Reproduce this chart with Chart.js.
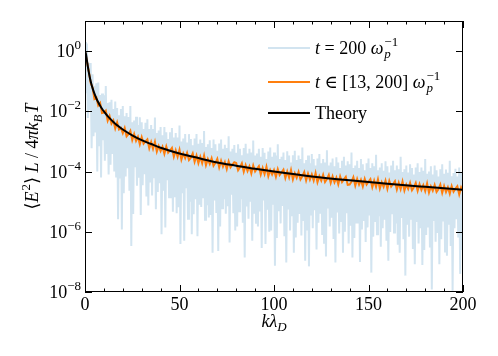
<!DOCTYPE html>
<html><head><meta charset="utf-8">
<script src="https://cdn.jsdelivr.net/npm/chart.js@4.4.1/dist/chart.umd.min.js"></script>
<style>html,body{margin:0;padding:0;background:#fff;}canvas{display:block;}</style>
</head><body>
<canvas id="c" width="498" height="356"></canvas>
<script>
// ---- data ----
const kTheory = [0,0.5,1,1.5,2,2.5,3,3.5,4,5,6,7,8,9,10,12,14,16,18,20,25,30,35,40,50,60,70,80,90,100,120,140,160,180,200];
const theory = [1,0.8,0.5,0.308,0.2,0.138,0.1,0.0755,0.0588,0.0385,0.027,0.02,0.0154,0.0122,0.0099,0.0069,0.0051,0.0039,0.0031,0.0025,0.0016,0.0011,0.00082,0.00062,0.0004,0.00028,0.0002,0.000156,0.000123,0.0001,0.000069,0.000051,0.000039,0.000031,0.000025];

// single-time spectrum, sampled every 0.5 in k (k = 0 ... 200)
const blueSpectrum = [
2,0.04,1.8,0.006,0.4,0.011,0.4,6e-4,0.17,1.5e-3,0.07,2e-3,0.085,1e-4,0.09,7e-4,0.035,6.3e-5,0.039,1.1e-3,
0.034,2.3e-4,0.069,3.8e-4,0.019,8e-5,0.02,1.7e-4,0.024,3.8e-4,0.012,1e-4,0.021,6.3e-5,0.013,2.6e-6,7.4e-3,5.9e-5,0.012,1.2e-6,
0.015,1.9e-5,6.8e-3,6.8e-5,8.8e-3,1.3e-4,6.5e-3,2.3e-5,0.015,3.4e-7,4.3e-3,3.9e-6,5e-3,1.4e-4,6.6e-3,3.4e-5,3.5e-3,6.2e-5,6.3e-3,3.6e-6,
4.3e-3,3.5e-5,2.6e-3,8.1e-5,4.2e-3,1.5e-5,5.5e-3,7.4e-6,2.6e-3,4.3e-5,3.5e-3,1.6e-5,2.6e-3,6e-5,6.2e-3,5.6e-6,1.9e-3,2.1e-5,2.3e-3,4.1e-5,
3e-3,8.3e-7,1.6e-3,2.3e-5,3e-3,1.4e-6,2e-3,5.2e-5,1.2e-3,1.3e-5,2e-3,1.3e-5,2.8e-3,4.6e-6,1.35e-3,1.4e-5,1.9e-3,4.1e-6,1.35e-3,6.5e-6,
3.4e-3,3.9e-7,1e-3,1.9e-5,1.25e-3,5e-7,1.75e-3,2.8e-5,9.3e-4,2.7e-6,1.75e-3,1e-5,1.2e-3,8.3e-7,7.4e-4,3.8e-6,1.25e-3,1.2e-5,1.75e-3,7.1e-7,
8.4e-4,7.9e-6,1.15e-3,6.6e-6,8.9e-4,1.3e-5,2.2e-3,2.5e-6,6.6e-4,7.6e-6,8e-4,3e-6,1.1e-3,3.6e-6,6.1e-4,2e-7,1.15e-3,1.1e-5,8e-4,4.2e-6,
4.9e-4,2.3e-7,8.5e-4,1.5e-6,1.17e-3,6e-6,5.7e-4,1.2e-5,7.8e-4,4e-6,6.1e-4,7.1e-6,1.5e-3,4.4e-7,4.6e-4,1.7e-5,5.7e-4,4.1e-6,7.6e-4,1.1e-6,
4.2e-4,1.5e-6,8.1e-4,4.8e-6,5.7e-4,1.2e-5,3.5e-4,2e-6,6.1e-4,1.4e-7,8.4e-4,6.9e-6,4e-4,2.7e-6,5.7e-4,1e-5,4.3e-4,5e-7,1.07e-3,4e-6,
3.4e-4,2e-6,4e-4,1.5e-6,5.7e-4,4.7e-6,3.1e-4,2.9e-7,6.1e-4,1.1e-5,4.2e-4,3.9e-7,2.6e-4,5.4e-6,4.6e-4,1e-6,6.3e-4,1.1e-6,3.1e-4,7.9e-6,
4.3e-4,7.4e-8,3.4e-4,6.2e-7,8.1e-4,4.8e-6,2.6e-4,1.9e-6,3.1e-4,7.2e-6,4.3e-4,7.1e-7,2.4e-4,9.5e-8,4.7e-4,5.5e-6,3.4e-4,1.1e-6,2e-4,3.3e-6,
3.5e-4,2e-7,4.9e-4,6.5e-7,2.4e-4,2e-6,3.4e-4,3.9e-6,2.6e-4,7.6e-7,6.3e-4,2.3e-6,1.9e-4,1.1e-7,2.4e-4,1.1e-6,3.4e-4,7.1e-8,1.9e-4,3.5e-6,
3.8e-4,1.3e-6,2.6e-4,5.2e-6,1.6e-4,2.6e-7,2.7e-4,2e-6,3.8e-4,4e-6,1.9e-4,7.8e-7,2.6e-4,4e-7,2e-4,1.5e-7,5.1e-4,5.9e-6,1.6e-4,1.5e-6,
2e-4,2.9e-6,2.7e-4,5.8e-7,1.5e-4,9.5e-8,3e-4,4.4e-6,2e-4,8.7e-7,1.3e-4,2.1e-6,2.3e-4,2e-7,3.1e-4,1e-6,1.6e-4,4.1e-6,2.2e-4,4.1e-7,
1.75e-4,1.6e-6,4.3e-4,1.4e-7,1.3e-4,6.2e-7,1.6e-4,1.9e-6,2.3e-4,1.9e-6,1.3e-4,1e-7,2.6e-4,1.2e-6,1.75e-4,2.3e-6,1.1e-4,4.6e-7,1.9e-4,1.4e-6,
2.7e-4,3.5e-6,1.3e-4,4.4e-8,1.9e-4,6.9e-7,1.5e-4,2.1e-6,3.6e-4,8.3e-7,1.1e-4,3.3e-6,1.35e-4,3.2e-7,1.9e-4,1.3e-6,1.07e-4,2.5e-6,2.2e-4,5e-7,
1.5e-4,1.1e-7,9.3e-5,9.8e-7,1.6e-4,3.8e-6,2.3e-4,9.5e-7,1.1e-4,1.9e-6,1.6e-4,3.7e-7,1.2e-4,2e-7,3.1e-4,2.9e-6,9.6e-5,5.6e-7,1.2e-4,3.5e-8,
1.6e-4,1.7e-6,9.3e-5,6.9e-7,1.75e-4,2.7e-6,1.3e-4,2.7e-7,8e-5,8.3e-8,1.35e-4,2.1e-6,1.9e-4,4.1e-7,9.7e-5,1.3e-6,1.35e-4,7.9e-8,1.07e-4,2.5e-7,
2.6e-4,7.8e-7,8.4e-5,1.5e-6,1e-4,3e-7,1.5e-4,1.2e-8,8e-5,2.3e-6,1.6e-4,4.7e-7,1.1e-4,9.1e-7,6.9e-5,8.3e-8,1.2e-4,5.6e-7,1.75e-4,2.2e-6,
8.4e-5,2.2e-7,1.17e-4,1.6e-7,9.2e-5,1.7e-6,2.3e-4,3.4e-7,7e-5,1.1e-8,8.9e-5,1.3e-6,1.23e-4,2.6e-6,6.9e-5,6.5e-7,1.35e-4,4e-8,9.6e-5,2.5e-7,
6.1e-5];

// time-averaged spectrum, sampled every 1 in k (k = 0 ... 200)
const orangeAvg = [
1.0,0.46,0.215,0.088,0.062,0.026,0.029,0.0156,0.019,0.0088,
0.0091,0.0106,0.0049,0.0070,0.0039,0.0050,0.0027,0.0043,0.0025,0.0028,
0.0019,0.0028,0.00148,0.00175,0.00225,0.00112,0.00176,0.00105,0.00143,0.00081,
0.00139,0.00085,0.00101,0.00117,0.00059,0.00095,0.00057,0.00097,0.00046,0.00071,
0.00048,0.00067,0.00039,0.00068,0.00042,0.00050,0.00061,0.00031,0.00051,0.00031,
0.00053,0.00025,0.00040,0.00028,0.00042,0.00024,0.00029,0.00040,0.00021,0.00034,
0.00019,0.00031,0.00019,0.00034,0.000162,0.00026,0.00018,0.000276,0.000155,0.000194,
0.000265,0.000138,0.000229,0.000145,0.000206,0.000121,0.000217,0.000139,0.000169,0.000205,
0.000193,0.00011,0.000138,0.000188,0.000099,0.000164,0.000104,0.000149,8.7e-5,0.000158,
0.0001,0.000124,0.000151,8.0e-5,0.000131,8.2e-5,0.000144,7.0e-5,0.000112,8.0e-5,
1.12e-4,6.7e-5,1.2e-4,7.7e-5,9.5e-5,1.16e-4,6.1e-5,1.01e-4,6.3e-5,1.12e-4,
5.5e-5,8.8e-5,6.2e-5,9.7e-5,5.5e-5,7.0e-5,9.6e-5,5.1e-5,8.5e-5,5.4e-5,
8.0e-5,5.0e-5,8.9e-5,4.4e-5,7.0e-5,5.0e-5,7.8e-5,4.5e-5,5.6e-5,7.8e-5,
4.2e-5,6.9e-5,4.4e-5,6.3e-5,3.8e-5,6.9e-5,4.5e-5,5.5e-5,6.7e-5,3.6e-5,
3.7e-5,4.6e-5,6.5e-5,3.4e-5,5.7e-5,3.7e-5,5.3e-5,3.2e-5,5.7e-5,3.7e-5,
4.6e-5,5.6e-5,3.0e-5,5.0e-5,3.1e-5,5.5e-5,2.7e-5,4.4e-5,3.1e-5,5.0e-5,
2.65e-5,4.9e-5,3.15e-5,3.85e-5,4.8e-5,2.55e-5,4.2e-5,2.6e-5,4.7e-5,2.35e-5,
3.7e-5,2.65e-5,4.2e-5,2.4e-5,3.0e-5,4.2e-5,2.3e-5,3.8e-5,2.45e-5,3.5e-5,
2.25e-5,4.0e-5,2.0e-5,3.2e-5,2.3e-5,3.6e-5,2.1e-5,2.6e-5,3.7e-5,1.95e-5,
3.3e-5,2.1e-5,3.0e-5,1.85e-5,3.3e-5,2.15e-5,2.7e-5,3.25e-5,1.75e-5,2.95e-5,
2.15e-5];

const xTickValues = [0, 50, 100, 150, 200];
const xTickLabels = ['0', '50', '100', '150', '200'];
const xMinorStep = 10;
const yTickValues = [1, 1e-2, 1e-4, 1e-6, 1e-8];
const yTickExponents = ['0', '\u22122', '\u22124', '\u22126', '\u22128'];
const seriesNames = ['t = 200', 't \u2208 [13, 200]', 'Theory'];

// ---- tables built from the arrays ----
const kBlue = blueSpectrum.map((_, i) => i * 0.5);
const kOrange = orangeAvg.map((_, i) => i);
const toXY = (xs, ys) => ys.map((y, i) => ({ x: xs[i], y }));

const SERIF = '"Liberation Serif", "DejaVu Serif", serif';
const F_R = '18px ' + SERIF;
const F_I = 'italic 18px ' + SERIF;
const F_RS = '13px ' + SERIF;
const F_IS = 'italic 13px ' + SERIF;
const COL_BLUE = 'rgb(210,228,240)';
const COL_ORANGE = 'rgb(255,127,14)';

function drawRich(ctx, parts, x, y, align) {
  const widths = parts.map(p => {
    if (p.stack) {
      return Math.max(...p.stack.map(q => { ctx.font = q.f; return ctx.measureText(q.t).width; }));
    }
    ctx.font = p.f;
    return ctx.measureText(p.t).width + (p.pad || 0);
  });
  const w = widths.reduce((a, b) => a + b, 0);
  let cx = align === 'right' ? x - w : align === 'center' ? x - w / 2 : x;
  ctx.textAlign = 'left';
  ctx.textBaseline = 'alphabetic';
  parts.forEach((p, i) => {
    if (p.stack) {
      p.stack.forEach(q => { ctx.font = q.f; ctx.fillText(q.t, cx + (q.dx || 0), y + (q.dy || 0)); });
    } else {
      ctx.font = p.f;
      ctx.fillText(p.t, cx + (p.dx || 0), y + (p.dy || 0));
    }
    cx += widths[i];
  });
}

const decorPlugin = {
  id: 'decor',
  afterDraw(chart) {
    const ctx = chart.ctx;
    const a = chart.chartArea;
    const xs = chart.scales.x, ys = chart.scales.y;
    ctx.save();
    ctx.fillStyle = '#000';
    ctx.strokeStyle = '#000';
    ctx.lineWidth = 1;
    ctx.strokeRect(a.left + 0.5, a.top + 0.5, a.right - a.left - 1, a.bottom - a.top - 1);
    ctx.beginPath();
    for (let v = xs.min; v <= xs.max; v += xMinorStep) {
      const px = Math.round(xs.getPixelForValue(v)) + 0.5;
      const len = xTickValues.includes(v) ? 7 : 3.5;
      ctx.moveTo(px, a.bottom); ctx.lineTo(px, a.bottom - len);
      ctx.moveTo(px, a.top); ctx.lineTo(px, a.top + len);
    }
    yTickValues.forEach(v => {
      const py = Math.round(ys.getPixelForValue(v)) + 0.5;
      ctx.moveTo(a.left, py); ctx.lineTo(a.left + 7, py);
      ctx.moveTo(a.right, py); ctx.lineTo(a.right - 7, py);
    });
    ctx.stroke();

    xTickValues.forEach((v, i) => {
      drawRich(ctx, [{ t: xTickLabels[i], f: F_R }], xs.getPixelForValue(v), a.bottom + 18, 'center');
    });
    yTickValues.forEach((v, i) => {
      const py = ys.getPixelForValue(v);
      drawRich(ctx, [{ t: '10', f: F_R }, { t: yTickExponents[i], f: F_RS, dy: -8 }], a.left - 4, py + 6, 'right');
    });

    drawRich(ctx, [{ t: 'k', f: F_I }, { t: '\u03bb', f: F_I }, { t: 'D', f: F_IS, dy: 4 }],
      (a.left + a.right) / 2, a.bottom + 35, 'center');

    ctx.save();
    ctx.translate(38, (a.top + a.bottom) / 2);
    ctx.rotate(-Math.PI / 2);
    drawRich(ctx, [
      { t: '\u27e8', f: F_R }, { t: 'E', f: F_I, pad: 1 }, { t: '2', f: F_RS, dy: -8 }, { t: '\u27e9', f: F_R },
      { t: ' ', f: F_R }, { t: 'L', f: F_I }, { t: ' / ', f: F_R }, { t: '4', f: F_R }, { t: '\u03c0', f: F_I },
      { t: 'k', f: F_I }, { t: 'B', f: F_IS, dy: 4, pad: 1 }, { t: 'T', f: F_I }
    ], 0, 0, 'center');
    ctx.restore();

    const legendY = [48, 82, 113];
    const legendCol = [COL_BLUE, COL_ORANGE, '#000'];
    const lx0 = 268, lx1 = 310, tx = 315;
    legendY.forEach((y, i) => {
      ctx.beginPath();
      ctx.strokeStyle = legendCol[i];
      ctx.lineWidth = 2;
      ctx.moveTo(lx0, y); ctx.lineTo(lx1, y);
      ctx.stroke();
    });
    ctx.fillStyle = '#000';
    const omega = [{ t: '\u03c9', f: F_I, pad: 1 },
      { stack: [{ t: '\u22121', f: F_RS, dy: -8 }, { t: 'p', f: F_IS, dy: 4 }] }];
    drawRich(ctx, [{ t: 't', f: F_I }, { t: ' = 200 ', f: F_R }].concat(omega), tx, legendY[0] + 6, 'left');
    drawRich(ctx, [{ t: 't', f: F_I }, { t: ' \u2208 [13, 200] ', f: F_R }].concat(omega), tx, legendY[1] + 6, 'left');
    drawRich(ctx, [{ t: seriesNames[2], f: F_R }], tx, legendY[2] + 6, 'left');
    ctx.restore();
  }
};

new Chart(document.getElementById('c'), {
  type: 'line',
  data: {
    datasets: [
      { label: seriesNames[2], data: toXY(kTheory, theory), borderColor: '#000', borderWidth: 2,
        pointRadius: 0, cubicInterpolationMode: 'monotone', order: 0, clip: 0 },
      { label: seriesNames[1], data: toXY(kOrange, orangeAvg), borderColor: COL_ORANGE, borderWidth: 2,
        pointRadius: 0, tension: 0, order: 1, clip: 0 },
      { label: seriesNames[0], data: toXY(kBlue, blueSpectrum), borderColor: COL_BLUE, borderWidth: 2,
        pointRadius: 0, tension: 0, order: 2, clip: 0 }
    ]
  },
  options: {
    responsive: false,
    devicePixelRatio: 1,
    animation: false,
    events: [],
    layout: { padding: { left: 0, top: 21, right: 35, bottom: 0 } },
    plugins: { legend: { display: false }, tooltip: { enabled: false }, title: { display: false } },
    scales: {
      x: { type: 'linear', min: 0, max: 200, grid: { display: false }, border: { display: false },
           ticks: { display: false }, afterFit: s => { s.height = 64; } },
      y: { type: 'logarithmic', min: 1e-8, max: 10, grid: { display: false }, border: { display: false },
           ticks: { display: false }, afterFit: s => { s.width = 85; } }
    }
  },
  plugins: [decorPlugin]
});
</script>
</body></html>
